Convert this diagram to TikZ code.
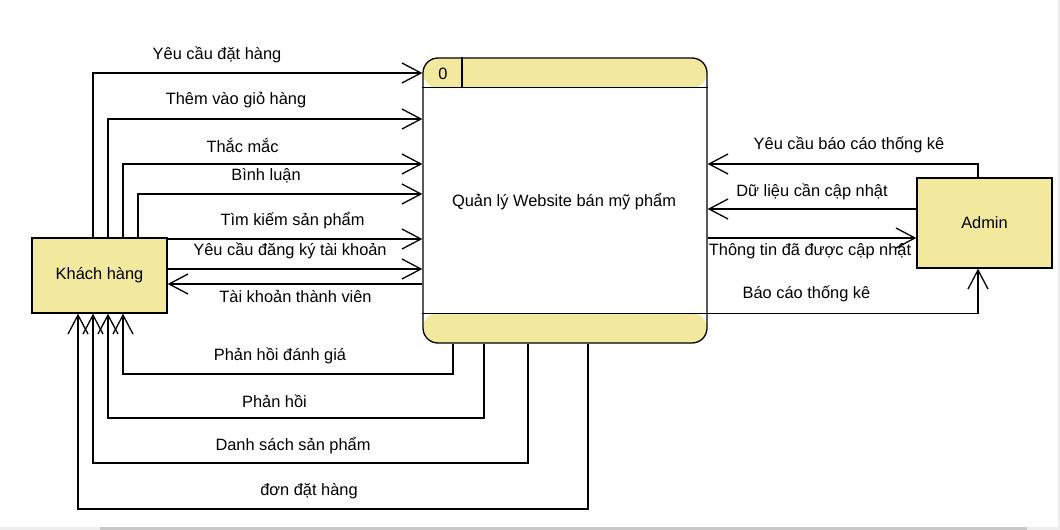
\documentclass[tikz,border=0pt]{standalone}
\usepackage{fontspec}
\setmainfont{Liberation Sans}
\usetikzlibrary{arrows.meta}
\definecolor{yel}{RGB}{242,233,158}
\definecolor{bar1}{RGB}{238,238,238}
\definecolor{bar2}{RGB}{200,200,200}
\tikzset{
  flow/.style={draw=black, line width=1.3pt, -{Straight Barb[length=19pt,width=20pt,line width=1.3pt]}},
  ent/.style={draw=black, line width=1.3pt, fill=yel, rectangle, inner sep=0pt},
  lbl/.style={inner sep=0pt, font=\fontsize{16.4}{19}\selectfont},
}
\begin{document}
\begin{tikzpicture}[x=1pt,y=-1pt]
\useasboundingbox (0,0) rectangle (1060,530);
\fill[white] (0,0) rectangle (1060,530);
% screenshot strip
\fill[bar1] (0,527) rectangle (100,530);
\fill[bar2] (100,527) rectangle (1027,530);
\fill[bar1] (1027,527) rectangle (1060,530);
\fill[bar1] (1058,0) rectangle (1060,527);

% process
\node[draw=black, line width=1.3pt, rounded corners=15pt, minimum width=284pt, minimum height=285pt, inner sep=0pt,
  path picture={
    \fill[yel] (path picture bounding box.north west) rectangle ([yshift=-30pt]path picture bounding box.north east);
    \fill[yel] (path picture bounding box.south west) rectangle ([yshift=30pt]path picture bounding box.south east);
  }] (proc) at (565,200.5) {};
\coordinate (hdl) at ([yshift=-30pt]proc.north west);
\coordinate (hdr) at ([yshift=-30pt]proc.north east);
\coordinate (ftl) at ([yshift=30pt]proc.south west);
\coordinate (ftr) at ([yshift=30pt]proc.south east);
\draw[line width=1.3pt] (hdl) -- (hdr);
\draw[line width=1.3pt] (ftl) -- (ftr);
\draw[line width=1.3pt] (proc.north -| 462,0) -- (hdl -| 462,0);
\node[lbl] (pid) at (443,73.5) {0};
\node[lbl] (ptext) at (564,202) {Quản lý Website bán mỹ phẩm};

% entities
\node[ent, minimum width=135pt, minimum height=75pt] (kh) at (99.5,275.5) {};
\node[lbl] at (kh) {Khách hàng};
\node[ent, minimum width=135pt, minimum height=90pt] (ad) at (984.5,223) {};
\node[lbl] at (ad) {Admin};

% customer -> process
\draw[flow] (kh.north -| 93,0) |- (proc.west |- 0,73);
\draw[flow] (kh.north -| 108,0) |- (proc.west |- 0,119);
\draw[flow] (kh.north -| 123,0) |- (proc.west |- 0,164);
\draw[flow] (kh.north -| 138,0) |- (proc.west |- 0,194);
\draw[flow] (kh.east |- 0,239) -- (proc.west |- 0,239);
\draw[flow] (kh.east |- 0,269) -- (proc.west |- 0,269);
\draw[flow] (proc.west |- 0,284) -- (kh.east |- 0,284);

\node[lbl] at (217,55) {Yêu cầu đặt hàng};
\node[lbl] at (236,100.5) {Thêm vào giỏ hàng};
\node[lbl] at (242.5,145.5) {Thắc mắc};
\node[lbl] at (266,175.5) {Bình luận};
\node[lbl] at (292.5,221) {Tìm kiếm sản phẩm};
\node[lbl] at (290,251) {Yêu cầu đăng ký tài khoản};
\node[lbl] at (295.5,296) {Tài khoản thành viên};

% process -> customer (bottom)
\draw[flow] (proc.south -| 453,0) |- (123,374) -- (kh.south -| 123,0);
\draw[flow] (proc.south -| 484,0) |- (108,418) -- (kh.south -| 108,0);
\draw[flow] (proc.south -| 528,0) |- (93,463) -- (kh.south -| 93,0);
\draw[flow] (proc.south -| 588,0) |- (78,509) -- (kh.south -| 78,0);

\node[lbl] at (280,356) {Phản hồi đánh giá};
\node[lbl] at (274.5,401) {Phản hồi};
\node[lbl] at (293,445.5) {Danh sách sản phẩm};
\node[lbl] at (309,491.5) {đơn đặt hàng};

% admin
\draw[flow] (ad.north -| 978,0) |- (proc.east |- 0,164);
\draw[flow] (ad.west |- 0,209) -- (proc.east |- 0,209);
\draw[flow] (proc.east |- 0,238) -- (ad.west |- 0,238);
\draw[flow] (ftr) -| (ad.south -| 978,0);

\node[lbl] at (849,145) {Yêu cầu báo cáo thống kê};
\node[lbl] at (812,191.5) {Dữ liệu cần cập nhật};
\node[lbl] at (810,251.5) {Thông tin đã được cập nhật};
\node[lbl] at (806.5,294) {Báo cáo thống kê};
\end{tikzpicture}
\end{document}
